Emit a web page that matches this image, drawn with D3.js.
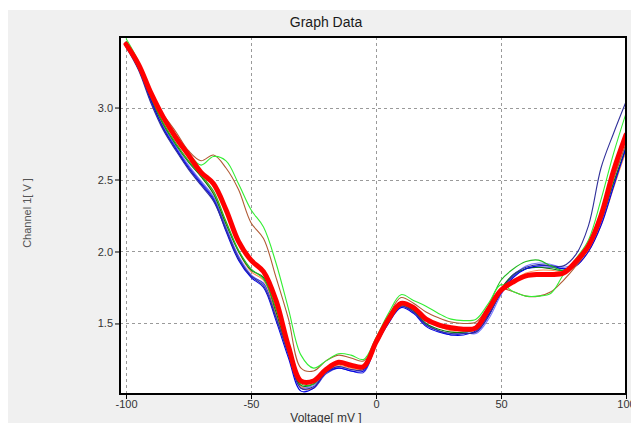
<!DOCTYPE html>
<html>
<head>
<meta charset="utf-8">
<script src="https://cdn.jsdelivr.net/npm/d3@7"></script>
<style>
  body { margin: 0; background: #fff; }
  svg { display: block; }
  .tick text { font-family: "Liberation Sans", Arial, sans-serif; font-size: 11px; fill: #333; }
</style>
</head>
<body>
<svg width="631" height="423"></svg>
<script>
// voltage sample points (mV)
var voltage = [-100, -95, -90, -85, -80, -75, -70, -65, -60, -55, -50, -45, -40, -35, -30, -25, -20, -15, -10, -5,
               0, 5, 10, 15, 20, 25, 30, 35, 40, 45, 50, 55, 60, 65, 70, 75, 80, 85, 90, 95, 100];

// individual sweeps (V)
var sweepNavy = [3.42, 3.26, 3.03, 2.84, 2.70, 2.57, 2.46, 2.35, 2.15, 1.95, 1.83, 1.76, 1.54, 1.28, 1.05, 1.06, 1.16, 1.20, 1.18, 1.18,
                 1.36, 1.51, 1.62, 1.58, 1.49, 1.45, 1.43, 1.43, 1.44, 1.55, 1.72, 1.84, 1.89, 1.91, 1.90, 1.90, 1.98, 2.18, 2.58, 2.82, 3.04];
var sweepBlue = [3.43, 3.27, 3.05, 2.85, 2.71, 2.58, 2.47, 2.36, 2.14, 1.94, 1.82, 1.75, 1.52, 1.26, 1.03, 1.05, 1.16, 1.19, 1.17, 1.17,
                 1.35, 1.50, 1.61, 1.57, 1.48, 1.44, 1.42, 1.42, 1.45, 1.56, 1.71, 1.82, 1.88, 1.90, 1.90, 1.88, 1.90, 2.00, 2.18, 2.45, 2.72];
var sweepLightBlue = [3.43, 3.28, 3.06, 2.87, 2.73, 2.60, 2.49, 2.38, 2.17, 1.97, 1.84, 1.77, 1.55, 1.29, 1.06, 1.07, 1.17, 1.20, 1.18, 1.19,
                      1.37, 1.52, 1.63, 1.59, 1.50, 1.45, 1.43, 1.44, 1.43, 1.53, 1.70, 1.83, 1.90, 1.92, 1.91, 1.89, 1.92, 2.04, 2.26, 2.52, 2.73];
var sweepMidBlue = [3.44, 3.28, 3.04, 2.86, 2.72, 2.59, 2.48, 2.37, 2.16, 1.96, 1.83, 1.78, 1.56, 1.29, 1.05, 1.05, 1.15, 1.19, 1.17, 1.16,
                    1.35, 1.51, 1.62, 1.58, 1.49, 1.45, 1.42, 1.43, 1.44, 1.55, 1.73, 1.83, 1.88, 1.89, 1.89, 1.88, 1.91, 2.02, 2.20, 2.47, 2.70];
var sweepDarkGreen = [3.46, 3.29, 3.06, 2.88, 2.74, 2.62, 2.52, 2.40, 2.19, 2.00, 1.87, 1.82, 1.58, 1.30, 1.07, 1.08, 1.18, 1.22, 1.20, 1.19,
                      1.37, 1.52, 1.63, 1.59, 1.50, 1.46, 1.44, 1.44, 1.46, 1.58, 1.74, 1.84, 1.88, 1.89, 1.88, 1.87, 1.93, 2.03, 2.22, 2.48, 2.72];
var sweepOrange = [3.44, 3.29, 3.07, 2.88, 2.75, 2.63, 2.53, 2.41, 2.20, 2.00, 1.86, 1.80, 1.57, 1.30, 1.06, 1.05, 1.17, 1.21, 1.19, 1.18,
                   1.36, 1.51, 1.62, 1.60, 1.52, 1.48, 1.45, 1.45, 1.46, 1.57, 1.72, 1.80, 1.85, 1.87, 1.87, 1.86, 1.90, 2.00, 2.18, 2.44, 2.70];
var sweepGreen = [3.45, 3.29, 3.07, 2.89, 2.75, 2.63, 2.53, 2.42, 2.21, 2.01, 1.88, 1.81, 1.60, 1.32, 1.08, 1.08, 1.18, 1.22, 1.20, 1.20,
                  1.38, 1.53, 1.64, 1.61, 1.53, 1.48, 1.46, 1.46, 1.48, 1.62, 1.80, 1.88, 1.93, 1.94, 1.90, 1.87, 1.93, 2.05, 2.28, 2.58, 2.78];
var sweepSienna = [3.44, 3.30, 3.08, 2.95, 2.83, 2.70, 2.63, 2.67, 2.58, 2.43, 2.20, 2.09, 1.82, 1.53, 1.19, 1.17, 1.24, 1.28, 1.26, 1.24,
                   1.38, 1.55, 1.68, 1.64, 1.58, 1.54, 1.51, 1.50, 1.51, 1.62, 1.74, 1.72, 1.69, 1.69, 1.72, 1.80, 1.90, 2.02, 2.22, 2.50, 2.75];
var sweepLime = [3.48, 3.32, 3.08, 2.92, 2.78, 2.68, 2.60, 2.66, 2.63, 2.47, 2.29, 2.17, 1.92, 1.60, 1.28, 1.19, 1.24, 1.29, 1.28, 1.25,
                 1.40, 1.57, 1.70, 1.66, 1.62, 1.57, 1.53, 1.52, 1.53, 1.64, 1.77, 1.72, 1.69, 1.69, 1.71, 1.84, 1.95, 2.08, 2.36, 2.68, 2.96];

// averaged curve (V)
var average = [3.44, 3.30, 3.10, 2.93, 2.79, 2.67, 2.55, 2.47, 2.29, 2.07, 1.94, 1.86, 1.66, 1.34, 1.10, 1.10, 1.18, 1.23, 1.21, 1.20,
               1.37, 1.53, 1.64, 1.61, 1.53, 1.49, 1.47, 1.46, 1.47, 1.60, 1.73, 1.79, 1.83, 1.84, 1.84, 1.85, 1.93, 2.04, 2.25, 2.56, 2.81];

var xTicks = [-100, -50, 0, 50, 100];
var yTicks = [1.5, 2.0, 2.5, 3.0];

var sweeps = [
  {vals: sweepLightBlue, color: "#7676ff"},
  {vals: sweepMidBlue, color: "#3c3cdc"},
  {vals: sweepOrange, color: "#ff8c50"},
  {vals: sweepDarkGreen, color: "#0a7a0a"},
  {vals: sweepBlue, color: "#0000e6"},
  {vals: sweepNavy, color: "#30309a"},
  {vals: sweepGreen, color: "#22b822"},
  {vals: sweepSienna, color: "#b05a34"},
  {vals: sweepLime, color: "#33ee33"}
];

var svg = d3.select("svg");

svg.append("rect")
  .attr("x", 8).attr("y", 10)
  .attr("width", 623).attr("height", 413)
  .attr("fill", "#f0f0f0");

var pLeft = 120, pTop = 37, pRight = 626, pBottom = 394;

var x = d3.scaleLinear().domain([-102.4, 100]).range([pLeft, pRight]);
var y = d3.scaleLinear().domain([1.01, 3.49]).range([pBottom, pTop]);

svg.append("rect")
  .attr("x", pLeft).attr("y", pTop)
  .attr("width", pRight - pLeft).attr("height", pBottom - pTop)
  .attr("fill", "#fff");

svg.append("clipPath").attr("id", "clip")
  .append("rect")
  .attr("x", pLeft).attr("y", pTop)
  .attr("width", pRight - pLeft).attr("height", pBottom - pTop);

// grid
var grid = svg.append("g").attr("stroke", "#9a9a9a").attr("stroke-dasharray", "3,3").attr("stroke-width", 1);
grid.selectAll(".vg").data(xTicks).enter().append("line")
  .attr("x1", function (d) { return Math.round(x(d)) + 0.5; })
  .attr("x2", function (d) { return Math.round(x(d)) + 0.5; })
  .attr("y1", pTop).attr("y2", pBottom);
grid.selectAll(".hg").data(yTicks).enter().append("line")
  .attr("y1", function (d) { return Math.round(y(d)) + 0.5; })
  .attr("y2", function (d) { return Math.round(y(d)) + 0.5; })
  .attr("x1", pLeft).attr("x2", pRight);

var line = d3.line()
  .x(function (d) { return x(d[0]); })
  .y(function (d) { return y(d[1]); })
  .curve(d3.curveCatmullRom.alpha(0.5));

var plot = svg.append("g").attr("clip-path", "url(#clip)");

sweeps.forEach(function (s) {
  plot.append("path")
    .datum(voltage.map(function (v, i) { return [v, s.vals[i]]; }))
    .attr("fill", "none")
    .attr("stroke", s.color)
    .attr("stroke-width", 1.1)
    .attr("d", line);
});

plot.append("path")
  .datum(voltage.map(function (v, i) { return [v, average[i]]; }))
  .attr("fill", "none")
  .attr("stroke", "#ff0000")
  .attr("stroke-width", 5)
  .attr("stroke-linejoin", "round")
  .attr("stroke-linecap", "round")
  .attr("d", line);

// frame
svg.append("rect")
  .attr("x", pLeft).attr("y", pTop)
  .attr("width", pRight - pLeft).attr("height", pBottom - pTop)
  .attr("fill", "none").attr("stroke", "#000").attr("stroke-width", 2);

// axes
var xAxis = svg.append("g")
  .attr("transform", "translate(0," + (pBottom + 1) + ")")
  .call(d3.axisBottom(x).tickValues(xTicks).tickSize(4).tickPadding(1)
    .tickFormat(function (d) { return String(d); }));
xAxis.select(".domain").remove();

var yAxis = svg.append("g")
  .attr("transform", "translate(" + (pLeft - 1) + ",0)")
  .call(d3.axisLeft(y).tickValues(yTicks).tickSize(4).tickPadding(2)
    .tickFormat(function (d) { return d.toFixed(1); }));
yAxis.select(".domain").remove();

svg.append("text")
  .attr("x", 326).attr("y", 27)
  .attr("text-anchor", "middle")
  .attr("font-family", "Liberation Sans, Arial, sans-serif")
  .attr("font-size", 14)
  .attr("fill", "#1a1a1a")
  .text("Graph Data");

svg.append("text")
  .attr("x", 326).attr("y", 422)
  .attr("text-anchor", "middle")
  .attr("font-family", "Liberation Sans, Arial, sans-serif")
  .attr("font-size", 12)
  .attr("fill", "#333")
  .text("Voltage[ mV ]");

svg.append("text")
  .attr("transform", "translate(31,213) rotate(-90)")
  .attr("text-anchor", "middle")
  .attr("font-family", "Liberation Sans, Arial, sans-serif")
  .attr("font-size", 11)
  .attr("fill", "#555")
  .text("Channel 1[ V ]");
</script>
</body>
</html>
